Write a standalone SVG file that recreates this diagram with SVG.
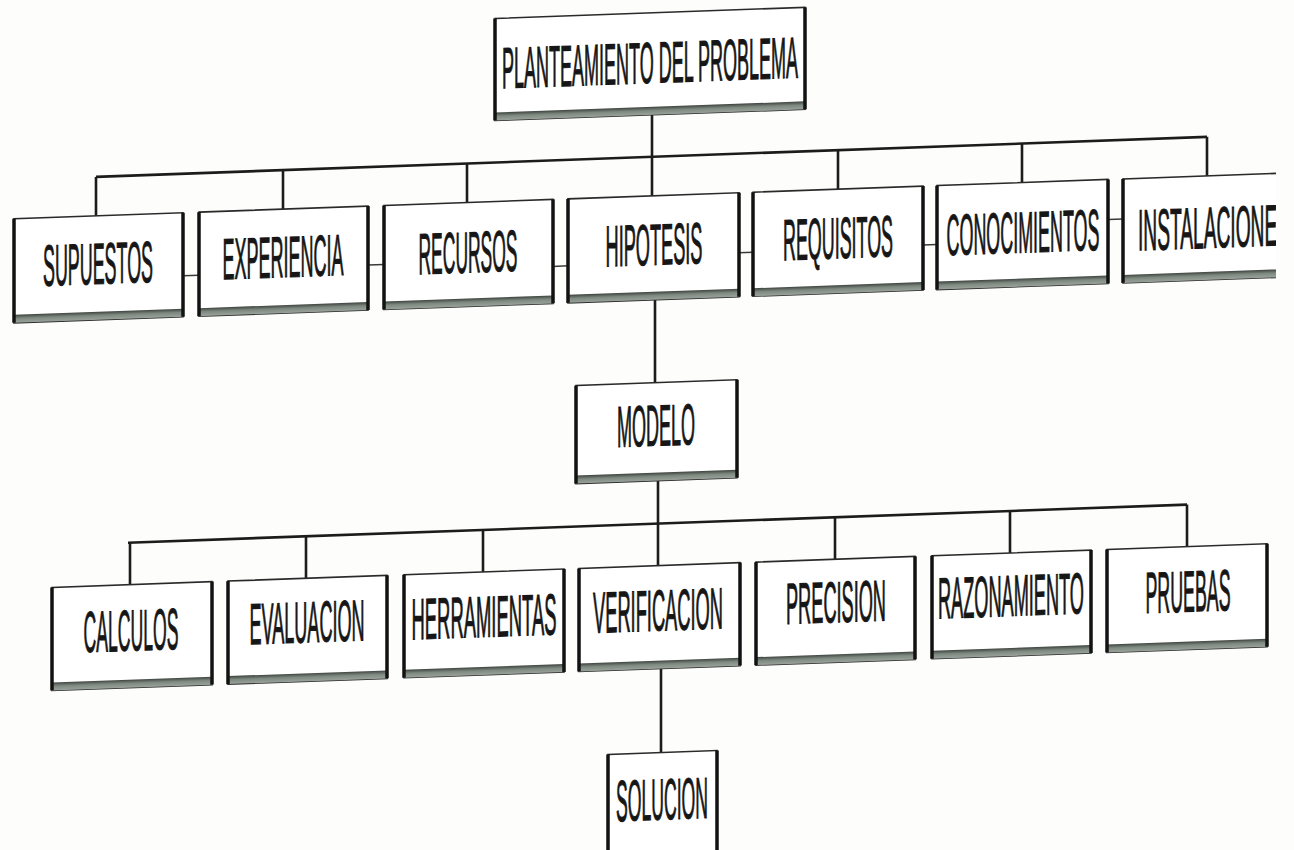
<svg xmlns="http://www.w3.org/2000/svg" width="1294" height="850" viewBox="0 0 1294 850">
<defs>
<linearGradient id="sh" x1="0" y1="0" x2="0" y2="1">
<stop offset="0" stop-color="#3e443f"/>
<stop offset="0.45" stop-color="#7d887f"/>
<stop offset="1" stop-color="#9aa39b"/>
</linearGradient>
<clipPath id="edge"><rect x="0" y="-100" width="1276" height="1100"/></clipPath>
<style>
.box{fill:#fff;stroke:#2a2a2a;stroke-width:1.6}
.shadow{fill:url(#sh)}
.side{stroke:#121212;stroke-width:3.5;fill:none}
.lbl{font-family:"Liberation Sans",Arial,sans-serif;font-weight:400;font-size:58px;fill:#161616;stroke:#161616;stroke-width:1.1;text-anchor:middle}
.wire{stroke:#1c1c1c;stroke-width:2.6;fill:none}
.tie{stroke:#3a3a3a;stroke-width:1.5;fill:none}
</style>
</defs>
<rect x="0" y="0" width="1294" height="850" fill="#fdfdfb"/>
<g transform="translate(0,23.3) skewY(-2.06)">
<g id="connectors">
<path class="wire" d="M652 115V196"/>
<path class="wire" d="M96 157H1207"/>
<path class="wire" d="M96 157V196M283 157V196M467 157V196M838 157V196M1022 157V196M1207 157V196"/>
<path class="tie" d="M183 259H199M368 255H384M553 263H568M739 256H753M923 255H937M1108 236H1123"/>
<path class="wire" d="M655 300V383"/>
<path class="wire" d="M658 481V566"/>
<path class="wire" d="M128 524H1187"/>
<path class="wire" d="M130 524V566M306 524V566M483 524V566M835 524V566M1010 524V566M1187 524V566"/>
<path class="wire" d="M661 669V753"/>
</g>
<g id="planteamiento">
<rect class="box" x="495" y="13" width="310" height="102"/>
<rect class="shadow" x="495" y="107" width="310" height="8"/>
<path class="side" d="M495 13V115M805 13V115"/>
<text class="lbl" x="650" y="83" textLength="296" lengthAdjust="spacingAndGlyphs">PLANTEAMIENTO DEL PROBLEMA</text>
</g>
<g id="supuestos">
<rect class="box" x="14" y="196" width="169" height="104"/>
<rect class="shadow" x="14" y="292" width="169" height="8"/>
<path class="side" d="M14 196V300M183 196V300"/>
<text class="lbl" x="98" y="264" textLength="110" lengthAdjust="spacingAndGlyphs">SUPUESTOS</text>
</g>
<g id="experiencia">
<rect class="box" x="199" y="196" width="169" height="104"/>
<rect class="shadow" x="199" y="292" width="169" height="8"/>
<path class="side" d="M199 196V300M368 196V300"/>
<text class="lbl" x="283" y="264" textLength="121" lengthAdjust="spacingAndGlyphs">EXPERIENCIA</text>
</g>
<g id="recursos">
<rect class="box" x="384" y="196" width="169" height="104"/>
<rect class="shadow" x="384" y="292" width="169" height="8"/>
<path class="side" d="M384 196V300M553 196V300"/>
<text class="lbl" x="468" y="266" textLength="99" lengthAdjust="spacingAndGlyphs">RECURSOS</text>
</g>
<g id="hipotesis">
<rect class="box" x="568" y="196" width="171" height="104"/>
<rect class="shadow" x="568" y="292" width="171" height="8"/>
<path class="side" d="M568 196V300M739 196V300"/>
<text class="lbl" x="654" y="265" textLength="97" lengthAdjust="spacingAndGlyphs">HIPOTESIS</text>
</g>
<g id="requisitos">
<rect class="box" x="753" y="196" width="170" height="104"/>
<rect class="shadow" x="753" y="292" width="170" height="8"/>
<path class="side" d="M753 196V300M923 196V300"/>
<text class="lbl" x="838" y="265" textLength="110" lengthAdjust="spacingAndGlyphs">REQUISITOS</text>
</g>
<g id="conocimientos">
<rect class="box" x="937" y="196" width="171" height="104"/>
<rect class="shadow" x="937" y="292" width="171" height="8"/>
<path class="side" d="M937 196V300M1108 196V300"/>
<text class="lbl" x="1023" y="266" textLength="153" lengthAdjust="spacingAndGlyphs">CONOCIMIENTOS</text>
</g>
<g id="instalaciones" clip-path="url(#edge)">
<rect class="box" x="1123" y="196" width="171" height="104"/>
<rect class="shadow" x="1123" y="292" width="171" height="8"/>
<path class="side" d="M1123 196V300"/>
<text class="lbl" x="1214" y="268" textLength="152" lengthAdjust="spacingAndGlyphs">INSTALACIONES</text>
</g>
<g id="modelo">
<rect class="box" x="576" y="383" width="161" height="98"/>
<rect class="shadow" x="576" y="473" width="161" height="8"/>
<path class="side" d="M576 383V481M737 383V481"/>
<text class="lbl" x="656" y="446" textLength="78" lengthAdjust="spacingAndGlyphs">MODELO</text>
</g>
<g id="calculos">
<rect class="box" x="52" y="566" width="160" height="103"/>
<rect class="shadow" x="52" y="661" width="160" height="8"/>
<path class="side" d="M52 566V669M212 566V669"/>
<text class="lbl" x="131" y="632" textLength="95" lengthAdjust="spacingAndGlyphs">CALCULOS</text>
</g>
<g id="evaluacion">
<rect class="box" x="228" y="566" width="159" height="103"/>
<rect class="shadow" x="228" y="661" width="159" height="8"/>
<path class="side" d="M228 566V669M387 566V669"/>
<text class="lbl" x="307" y="630" textLength="115" lengthAdjust="spacingAndGlyphs">EVALUACION</text>
</g>
<g id="herramientas">
<rect class="box" x="404" y="566" width="160" height="103"/>
<rect class="shadow" x="404" y="661" width="160" height="8"/>
<path class="side" d="M404 566V669M564 566V669"/>
<text class="lbl" x="484" y="631" textLength="145" lengthAdjust="spacingAndGlyphs">HERRAMIENTAS</text>
</g>
<g id="verificacion">
<rect class="box" x="579" y="566" width="161" height="103"/>
<rect class="shadow" x="579" y="661" width="161" height="8"/>
<path class="side" d="M579 566V669M740 566V669"/>
<text class="lbl" x="658" y="631" textLength="130" lengthAdjust="spacingAndGlyphs">VERIFICACION</text>
</g>
<g id="precision">
<rect class="box" x="756" y="566" width="159" height="103"/>
<rect class="shadow" x="756" y="661" width="159" height="8"/>
<path class="side" d="M756 566V669M915 566V669"/>
<text class="lbl" x="836" y="629" textLength="100" lengthAdjust="spacingAndGlyphs">PRECISION</text>
</g>
<g id="razonamiento">
<rect class="box" x="932" y="566" width="159" height="103"/>
<rect class="shadow" x="932" y="661" width="159" height="8"/>
<path class="side" d="M932 566V669M1091 566V669"/>
<text class="lbl" x="1011" y="629" textLength="146" lengthAdjust="spacingAndGlyphs">RAZONAMIENTO</text>
</g>
<g id="pruebas">
<rect class="box" x="1107" y="566" width="160" height="103"/>
<rect class="shadow" x="1107" y="661" width="160" height="8"/>
<path class="side" d="M1107 566V669M1267 566V669"/>
<text class="lbl" x="1188" y="631" textLength="85" lengthAdjust="spacingAndGlyphs">PRUEBAS</text>
</g>
<g id="solucion">
<rect class="box" x="608" y="753" width="109" height="140"/>
<path class="side" d="M608 753V893M717 753V893"/>
<text class="lbl" x="662" y="820" font-size="54" textLength="92" lengthAdjust="spacingAndGlyphs">SOLUCION</text>
</g>
</g>
</svg>
